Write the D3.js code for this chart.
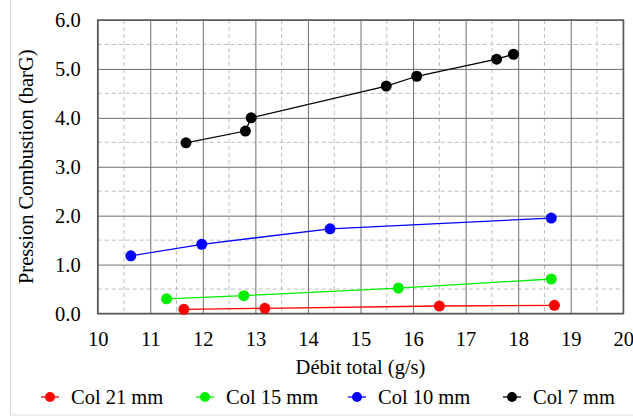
<!DOCTYPE html>
<html>
<head>
<meta charset="utf-8">
<script src="https://cdn.jsdelivr.net/npm/d3@7"></script>
<style>
  html, body { margin: 0; padding: 0; background: #fff; }
  svg { display: block; }
  text { font-family: "Liberation Serif", "Times New Roman", serif; fill: #000; }
</style>
</head>
<body>
<svg id="chart" width="633" height="417"></svg>
<script>
const seriesNames = ["Col 21 mm", "Col 15 mm", "Col 10 mm", "Col 7 mm"];
const seriesColors = ["#ff0000", "#00ee00", "#0000ff", "#000000"];
const col21 = [[11.64, 0.086], [13.18, 0.105], [16.50, 0.153], [18.69, 0.167]];
const col15 = [[11.31, 0.30], [12.78, 0.365], [15.72, 0.52], [18.63, 0.705]];
const col10 = [[10.63, 1.18], [11.98, 1.415], [14.42, 1.73], [18.63, 1.95]];
const col7  = [[11.68, 3.49], [12.81, 3.73], [12.92, 4.00], [15.49, 4.65], [16.07, 4.85], [17.59, 5.20], [17.91, 5.30]];
const xTicks = [10, 11, 12, 13, 14, 15, 16, 17, 18, 19, 20];
const yTicks = [0, 1, 2, 3, 4, 5, 6];
const xTitle = "Débit total (g/s)";
const yTitle = "Pression Combustion (barG)";

const allSeries = [col21, col15, col10, col7];
const FS = 20.5;

const svg = d3.select("#chart");
const pL = 97.7, pR = 623.3, pT = 20, pB = 313.5;
const x = d3.scaleLinear().domain([10, 20]).range([pL, pR]);
const y = d3.scaleLinear().domain([0, 6]).range([pB, pT]);

// outer frame
svg.append("rect").attr("x", 10.5).attr("y", -5).attr("width", 640).attr("height", 420)
  .attr("fill", "none").attr("stroke", "#d9d9d9").attr("stroke-width", 1);

// minor grid (dashed)
const xMinor = d3.range(10.5, 20, 1);
const yMinor = d3.range(0.5, 6, 1);
const g = svg.append("g");
g.selectAll(".xm").data(xMinor).enter().append("line")
  .attr("x1", d => x(d)).attr("x2", d => x(d)).attr("y1", pT).attr("y2", pB)
  .attr("stroke", "#bdbdbd").attr("stroke-width", 1).attr("stroke-dasharray", "4,3");
g.selectAll(".ym").data(yMinor).enter().append("line")
  .attr("x1", pL).attr("x2", pR).attr("y1", d => y(d)).attr("y2", d => y(d))
  .attr("stroke", "#bdbdbd").attr("stroke-width", 1).attr("stroke-dasharray", "4,3");

// major grid via axes
const xGrid = d3.axisBottom(x).tickValues(xTicks).tickSize(-(pB - pT)).tickFormat("");
const yGrid = d3.axisLeft(y).tickValues(yTicks).tickSize(-(pR - pL)).tickFormat("");
const xg = svg.append("g").attr("transform", `translate(0,${pB})`).call(xGrid);
const yg = svg.append("g").attr("transform", `translate(${pL},0)`).call(yGrid);
[xg, yg].forEach(a => {
  a.select(".domain").remove();
  a.selectAll("line").attr("stroke", "#6e6e6e").attr("stroke-width", 1);
});

// plot border
svg.append("rect").attr("x", pL).attr("y", pT).attr("width", pR - pL).attr("height", pB - pT)
  .attr("fill", "none").attr("stroke", "#595959").attr("stroke-width", 1.5);

// tick labels
const xAxis = d3.axisBottom(x).tickValues(xTicks).tickSize(0).tickPadding(0).tickFormat(d3.format("d"));
const xl = svg.append("g").attr("transform", `translate(0,${pB})`).call(xAxis);
xl.select(".domain").remove();
xl.selectAll("text").attr("font-size", FS).attr("dy", null).attr("y", 32)
  .style("font-family", "Liberation Serif").attr("fill", "#000");

const yAxis = d3.axisLeft(y).tickValues(yTicks).tickSize(0).tickPadding(0).tickFormat(d3.format(".1f"));
const yl = svg.append("g").attr("transform", `translate(${pL},0)`).call(yAxis);
yl.select(".domain").remove();
yl.selectAll("text").attr("font-size", FS).attr("dy", "0.33em").attr("x", -17)
  .style("font-family", "Liberation Serif").attr("fill", "#000");

// axis titles
svg.append("text").attr("x", (pL + pR) / 2).attr("y", 374).attr("text-anchor", "middle")
  .attr("font-size", FS).text(xTitle);
svg.append("text").attr("transform", `translate(33,${(pT + pB) / 2}) rotate(-90)`)
  .attr("text-anchor", "middle").attr("font-size", FS).text(yTitle);

// series
const line = d3.line().x(d => x(d[0])).y(d => y(d[1]));
allSeries.forEach((data, i) => {
  const s = svg.append("g");
  s.append("path").datum(data).attr("d", line).attr("fill", "none")
    .attr("stroke", seriesColors[i]).attr("stroke-width", 1.3);
  s.selectAll("circle").data(data).enter().append("circle")
    .attr("cx", d => x(d[0])).attr("cy", d => y(d[1])).attr("r", 5.5)
    .attr("fill", seriesColors[i]);
});

// legend
const legX = [50, 205, 357, 512];
const legY = 397;
const leg = svg.append("g");
seriesNames.forEach((name, i) => {
  const it = leg.append("g");
  it.append("line").attr("x1", legX[i] - 9).attr("x2", legX[i] + 9).attr("y1", legY).attr("y2", legY)
    .attr("stroke", seriesColors[i]).attr("stroke-width", 1.3);
  it.append("circle").attr("cx", legX[i]).attr("cy", legY).attr("r", 5).attr("fill", seriesColors[i]);
  it.append("text").attr("x", legX[i] + 21).attr("y", legY + 7).attr("font-size", FS).text(name);
});
</script>
</body>
</html>
